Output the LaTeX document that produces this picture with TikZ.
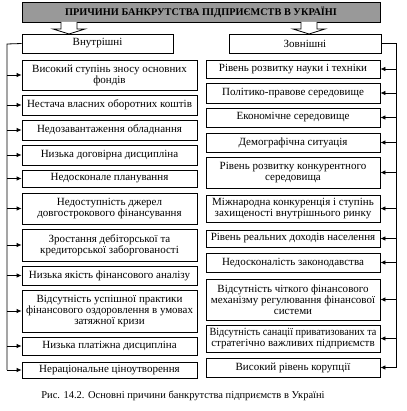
\documentclass[tikz,border=0pt]{standalone}
\usepackage{fontspec}
\setmainfont{Liberation Serif}
\usetikzlibrary{arrows.meta}
\newcommand\mybox[6]{%
  \node[cause, minimum width={#3-#2}, minimum height={#5-#4}] (#1) at ({(#2+#3)/2},{(#4+#5)/2}) {#6};}
\newsavebox\fitbox
\newcommand\fit[1]{\sbox\fitbox{#1}\ifdim\wd\fitbox>167pt\resizebox{167pt}{\ht\fitbox}{\usebox\fitbox}\else\usebox\fitbox\fi}
\begin{document}
\begin{tikzpicture}[x=1pt,y=-1pt,
  cause/.style={draw, line width=0.8pt, align=center, inner sep=0pt, fill=white,
    font=\fontsize{11}{11}\selectfont},
  head/.style={draw, line width=0.8pt, fill=white},
  feed/.style={line width=0.8pt, -{Latex[length=5pt,width=4.5pt]}},
  bus/.style={line width=0.8pt}]
\useasboundingbox (0,0) rectangle (406,411);
\fill[white] (0,0) rectangle (406,411);
% title
\node[draw, line width=0.8pt, fill=black!40, minimum width=358, minimum height=20, inner sep=0pt,
  font=\fontsize{10.3}{11}\selectfont\bfseries] (title) at (201,12) {ПРИЧИНИ БАНКРУТСТВА ПІДПРИЄМСТВ В УКРАЇНІ};
% group heads
\mybox{vn}{22}{173}{34}{53}{Внутрішні}
\mybox{zv}{229}{381}{34}{53}{Зовнішні}
% block arrows
\draw[head] (61,22) -- (61,29) -- (53,29) -- (69,34) -- (85,29) -- (77,29) -- (77,22);
\draw[head] (301,22) -- (301,29) -- (293,29) -- (309,34) -- (325,29) -- (317,29) -- (317,22);
% left boxes
\mybox{L1}{22}{197}{60}{90}{\fit{Високий ступінь зносу основних}\\\fit{фондів}}
\mybox{L2}{22}{197}{95}{115}{\fit{Нестача власних оборотних коштів}}
\mybox{L3}{22}{197}{120}{140}{\fit{Недозавантаження обладнання}}
\mybox{L4}{22}{197}{145}{165}{\fit{Низька договірна дисципліна}}
\mybox{L5}{22}{197}{170}{187}{\fit{Недосконале планування}}
\mybox{L6}{22}{197}{193}{224}{\fit{Недоступність джерел}\\\fit{довгострокового фінансування}}
\mybox{L7}{22}{197}{229}{261}{\fit{Зростання дебіторської та}\\\fit{кредиторської заборгованості}}
\mybox{L8}{22}{197}{266}{285}{\fit{Низька якість фінансового аналізу}}
\mybox{L9}{22}{197}{290}{332}{\fit{Відсутність успішної практики}\\\fit{фінансового оздоровлення в умовах}\\\fit{затяжної кризи}}
\mybox{L10}{22}{197}{337}{355}{\fit{Низька платіжна дисципліна}}
\mybox{L11}{22}{197}{362}{378}{\fit{Нераціональне ціноутворення}}
% right boxes
\mybox{R1}{206}{380}{60}{78}{\fit{Рівень розвитку науки і техніки}}
\mybox{R2}{206}{380}{83}{103}{\fit{Політико-правове середовище}}
\mybox{R3}{206}{380}{108}{127}{\fit{Економічне середовище}}
\mybox{R4}{206}{380}{133}{152}{\fit{Демографічна ситуація}}
\mybox{R5}{206}{380}{157}{188}{\fit{Рівень розвитку конкурентного}\\\fit{середовища}}
\mybox{R6}{206}{380}{195}{222}{\fit{Міжнародна конкуренція і ступінь}\\\fit{захищеності внутрішнього ринку}}
\mybox{R7}{206}{380}{230}{247}{\fit{Рівень реальних доходів населення}}
\mybox{R8}{206}{380}{253}{272}{\fit{Недосконалість законодавства}}
\mybox{R9}{206}{380}{279}{320}{\fit{Відсутність чіткого фінансового}\\\fit{механізму регулювання фінансової}\\\fit{системи}}
\mybox{R10}{206}{380}{325}{352}{\fit{Відсутність санації приватизованих та}\\\fit{стратегічно важливих підприємств}}
\mybox{R11}{206}{380}{358}{377}{\fit{Високий рівень корупції}}
% buses
\coordinate (lt) at (7,44);
\coordinate (rt) at (396,43);
\draw[bus] (vn.west) -- (lt) -- (lt |- L11.west);
\draw[bus] (zv.east |- rt) -- (rt) -- (rt |- R11.east);
\foreach \n in {L1,L2,L3,L4,L5,L6,L7,L8,L9,L10,L11}
  \draw[feed] (lt |- \n.west) -- (\n.west);
\foreach \n in {R1,R2,R3,R4,R5,R6,R7,R8,R9,R10,R11}
  \draw[feed] (rt |- \n.east) -- (\n.east);
% caption
\node[font=\fontsize{10.5}{12}\selectfont, inner sep=0pt] (cap) at (183,396)
  {Рис. 14.2. Основні причини банкрутства підприємств в Україні};
\end{tikzpicture}
\end{document}
